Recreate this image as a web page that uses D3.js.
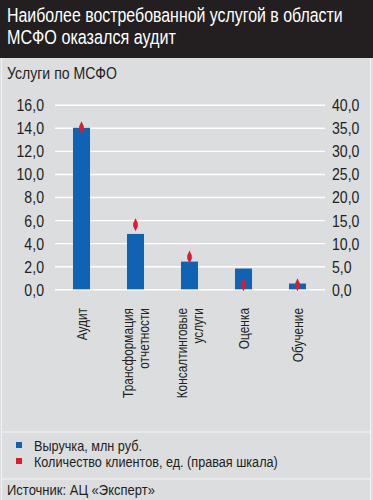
<!DOCTYPE html>
<html><head><meta charset="utf-8">
<script src="https://cdn.jsdelivr.net/npm/d3@7"></script>
<style>
html,body{margin:0;padding:0;background:#dcdddf;}
svg text{font-family:"Liberation Sans","Arial",sans-serif;}
</style></head>
<body>
<svg id="c" width="373" height="500"></svg>
<script>
const categories = [["Аудит"], ["Трансформация", "отчетности"], ["Консалтинговые", "услуги"], ["Оценка"], ["Обучение"]];
const revenue = [14.0, 4.8, 2.4, 1.8, 0.5];
const clients = [35, 14, 7, 1, 1];
const leftTicks = [0, 2, 4, 6, 8, 10, 12, 14, 16];
const rightTicks = [0, 5, 10, 15, 20, 25, 30, 35, 40];
const titleLines = ["Наиболее востребованной услугой в области", "МСФО оказался аудит"];
const subtitle = "Услуги по МСФО";
const legendItems = ["Выручка, млн руб.", "Количество клиентов, ед. (правая шкала)"];
const source = "Источник: АЦ «Эксперт»";

const svg = d3.select("#c");
const W = 373, H = 500;
const blue = "#0f62b4", red = "#e3192b", bg = "#dcdddf", ink = "#231f20";

// place a horizontally condensed text at (x,y) with a target width
function condText(parent, str, x, y, size, targetW, fill) {
  const t = parent.append("text").attr("font-size", size).attr("fill", fill || ink).text(str);
  const L = t.node().getComputedTextLength();
  t.attr("transform", `translate(${x},${y}) scale(${targetW / L},1)`);
  return t;
}

svg.append("rect").attr("width", W).attr("height", H).attr("fill", bg);
svg.append("rect").attr("width", W).attr("height", 58).attr("fill", ink);
const titleW = [336, 169];
titleLines.forEach((t, i) => condText(svg, t, 7, 21.5 + i * 22, 19.5, titleW[i], "#fff"));
condText(svg, subtitle, 7, 79, 17, 110);

// frame lines
svg.append("line").attr("x1", 1.5).attr("x2", 1.5).attr("y1", 58).attr("y2", H).attr("stroke", "#f2f2f2");
svg.append("line").attr("x1", 370.5).attr("x2", 370.5).attr("y1", 58).attr("y2", H).attr("stroke", "#f2f2f2");

const y = d3.scaleLinear().domain([0, 16]).range([289.3, 104.7]);
const y2 = d3.scaleLinear().domain([0, 40]).range([289.3, 104.7]);
const x = d3.scaleBand().domain(categories.map((c, i) => i)).range([54.5, 324.5]).paddingInner(0.685).paddingOuter(0.3425);
const fmt = d => d3.format(".1f")(d).replace(".", ",");

// grid + left axis
const gL = svg.append("g").attr("transform", "translate(55,0)")
  .call(d3.axisLeft(y).tickValues(leftTicks).tickSize(-(325 - 55)).tickFormat(fmt));
gL.select(".domain").remove();
gL.selectAll(".tick line").attr("stroke", "#ffffff").attr("stroke-width", 1.4);
gL.selectAll(".tick text").attr("x", 0).attr("font-size", 16.5).attr("fill", ink).attr("dy", "0.36em");

const gR = svg.append("g").attr("transform", "translate(325,0)")
  .call(d3.axisRight(y2).tickValues(rightTicks).tickSize(0).tickFormat(fmt));
gR.select(".domain").remove();
gR.selectAll(".tick text").attr("x", 0).attr("font-size", 16.5).attr("fill", ink).attr("dy", "0.36em");

// condense tick labels so "16,0" is ~27.5px wide
const refTick = gL.selectAll(".tick text").filter(d => d === 16).node();
const kTick = 27.5 / refTick.getComputedTextLength();
gL.selectAll(".tick text").attr("transform", `translate(-11,0) scale(${kTick},1)`);
gR.selectAll(".tick text").attr("transform", `translate(7,0) scale(${kTick},1)`);

// bars
svg.append("g").selectAll("rect").data(revenue).join("rect")
  .attr("x", (d, i) => x(i)).attr("width", x.bandwidth())
  .attr("y", d => y(d)).attr("height", d => y(0) - y(d)).attr("fill", blue);

// markers
svg.append("g").selectAll("path").data(clients).join("path")
  .attr("transform", (d, i) => `translate(${x(i) + x.bandwidth() / 2},${y2(d)})`)
  .attr("d", "M0,-6.5 L2.3,-1.5 L2.3,1.5 L0,6.5 L-2.3,1.5 L-2.3,-1.5 Z")
  .attr("fill", red);

// x labels (rotated, condensed)
const xl = svg.append("g");
const probe = xl.append("text").attr("font-size", 15.5).text("Трансформация");
const kX = 90 / probe.node().getComputedTextLength();
probe.remove();
categories.forEach((lines, i) => {
  const cx = x(i) + x.bandwidth() / 2;
  const n = lines.length;
  lines.forEach((t, j) => {
    const off = (j - (n - 1) / 2) * 16;
    xl.append("text")
      .attr("transform", `translate(${cx + off + 5.5},308) rotate(-90) scale(${kX},1)`)
      .attr("text-anchor", "end").attr("font-size", 15.5).attr("fill", ink).text(t);
  });
});

// legend
svg.append("line").attr("x1", 2).attr("x2", 370).attr("y1", 432).attr("y2", 432).attr("stroke", "#f4f4f4").attr("stroke-width", 1.2);
const legW = [108, 244];
legendItems.forEach((t, i) => {
  svg.append("rect").attr("x", 16).attr("y", 442 + i * 16).attr("width", 6).attr("height", 6).attr("fill", i === 0 ? blue : red);
  condText(svg, t, 34, 451 + i * 16, 14.5, legW[i]);
});
svg.append("line").attr("x1", 2).attr("x2", 370).attr("y1", 479).attr("y2", 479).attr("stroke", "#f4f4f4").attr("stroke-width", 1.2);
condText(svg, source, 7, 494.5, 14.5, 148);
</script>
</body></html>
